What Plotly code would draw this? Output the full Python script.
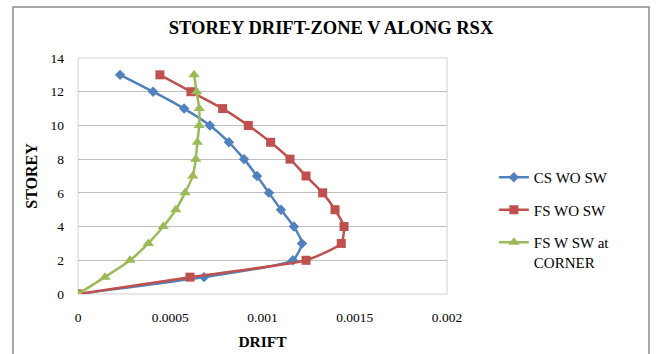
import plotly.graph_objects as go

storey = [0, 1, 2, 3, 4, 5, 6, 7, 8, 9, 10, 11, 12, 13]
cs_wo_sw = [0, 0.000683, 0.001165, 0.001214, 0.00117, 0.0011, 0.001035, 0.00097,
            0.0009, 0.000818, 0.000715, 0.000575, 0.000407, 0.000228]
fs_wo_sw = [0, 0.000607, 0.001236, 0.001427, 0.001442, 0.001393, 0.001326, 0.001236,
            0.001149, 0.001044, 0.000923, 0.000784, 0.000612, 0.000444]
fs_w_sw_corner = [0, 0.000146, 0.000282, 0.000381, 0.000462, 0.00053, 0.00058, 0.000622,
                  0.000638, 0.000647, 0.000657, 0.000657, 0.000643, 0.000629]
x_ticks = [0, 0.0005, 0.001, 0.0015, 0.002]
x_tick_labels = ["0", "0.0005", "0.001", "0.0015", "0.002"]
y_ticks = [0, 2, 4, 6, 8, 10, 12, 14]

font = "Liberation Serif, Times New Roman, serif"

fig = go.Figure()
fig.add_trace(go.Scatter(x=cs_wo_sw, y=storey, name="CS WO SW", mode="lines+markers",
                         legendgroup="a",
                         line=dict(color="#4F81BD", width=2.5, shape="spline", smoothing=0.5),
                         marker=dict(symbol="diamond", size=8, color="#4F81BD")))
fig.add_trace(go.Scatter(x=fs_wo_sw, y=storey, name="FS WO SW", mode="lines+markers",
                         legendgroup="b",
                         line=dict(color="#C0504D", width=2.5, shape="spline", smoothing=0.5),
                         marker=dict(symbol="square", size=9, color="#C0504D")))
fig.add_trace(go.Scatter(x=fs_w_sw_corner, y=storey, name="FS W SW at<br>CORNER", mode="lines+markers",
                         legendgroup="c",
                         line=dict(color="#9BBB59", width=2.5, shape="spline", smoothing=0.5),
                         marker=dict(symbol="triangle-up", size=10, color="#9BBB59")))

fig.update_layout(
    width=656, height=354,
    margin=dict(l=78, r=209, t=58, b=60),
    paper_bgcolor="white", plot_bgcolor="white",
    font=dict(family=font, size=14, color="black"),
    title=dict(text="<b>STOREY DRIFT-ZONE V ALONG RSX</b>", x=(331 - 78) / 369, xanchor="center",
               xref="paper", y=1 - 28 / 354, yanchor="middle",
               font=dict(family=font, size=18.5, color="black")),
    legend=dict(x=1.127, y=(294 - 161) / 236, xanchor="left", yanchor="top",
                font=dict(family=font, size=15), tracegroupgap=10, valign="top",
                bgcolor="rgba(0,0,0,0)"),
    xaxis=dict(range=[0, 0.002], tickvals=x_ticks, ticktext=x_tick_labels,
               showgrid=False, zeroline=False, showline=False, automargin=False,
               ticklabelstandoff=13, tickfont=dict(size=13.5),
               title=dict(text="<b>DRIFT</b>", font=dict(size=15.5), standoff=12)),
    yaxis=dict(range=[0, 14], tickvals=y_ticks, showgrid=True, gridcolor="#BFBFBF",
               gridwidth=1, zeroline=False, showline=False, ticklabelstandoff=13,
               automargin=False, tickfont=dict(size=13.5),
               title=dict(text="<b>STOREY</b>", font=dict(size=16), standoff=8)),
    shapes=[
        dict(type="rect", xref="paper", yref="paper", x0=0, x1=1, y0=0, y1=1,
             line=dict(color="#D0D0D0", width=1), layer="below"),
        dict(type="rect", xref="paper", yref="paper",
             x0=(13 - 78) / 369, x1=(649 - 78) / 369, y0=(294 - 370) / 236, y1=(294 - 7) / 236,
             line=dict(color="#8C8C8C", width=1.5)),
    ],
)

fig.write_html("out.html")
